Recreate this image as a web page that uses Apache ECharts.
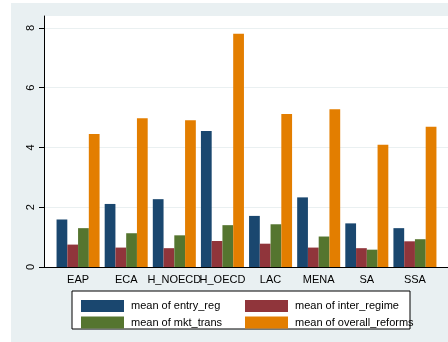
<!DOCTYPE html>
<html>
<head>
<meta charset="utf-8">
<script src="https://cdn.jsdelivr.net/npm/echarts@6/dist/echarts.min.js"></script>
<style>
  html, body { margin: 0; padding: 0; background: #ffffff; }
  #chart { width: 448px; height: 342px; }
</style>
</head>
<body>
<div id="chart"></div>
<script>
// Regions and the mean reform scores per region
const categories = ['EAP', 'ECA', 'H_NOECD', 'H_OECD', 'LAC', 'MENA', 'SA', 'SSA'];
const entryReg = [1.59, 2.11, 2.27, 4.55, 1.71, 2.33, 1.46, 1.30];
const interRegime = [0.75, 0.65, 0.63, 0.87, 0.78, 0.65, 0.63, 0.86];
const mktTrans = [1.30, 1.13, 1.06, 1.40, 1.43, 1.02, 0.58, 0.93];
const overallReforms = [4.45, 4.98, 4.91, 7.81, 5.12, 5.28, 4.09, 4.69];
const yTicks = [0, 2, 4, 6, 8];

const seriesNames = ['mean of entry_reg', 'mean of inter_regime', 'mean of mkt_trans', 'mean of overall_reforms'];
const seriesColors = ['#1a476f', '#90353b', '#55752f', '#e37e00'];
const seriesValues = [entryReg, interRegime, mktTrans, overallReforms];

const FONT = 'Liberation Sans, Arial, Helvetica, sans-serif';
const Y_MAX = 8.4;

const chart = echarts.init(document.getElementById('chart'), null, { renderer: 'canvas' });

chart.setOption({
  animation: false,
  backgroundColor: '#ffffff',
  textStyle: { fontFamily: FONT },
  graphic: [
    { type: 'rect', z: -5, silent: true,
      shape: { x: 11, y: 3, width: 437, height: 339 },
      style: { fill: '#e9f0f2' } },
    { type: 'rect', z: 3, silent: true,
      shape: { x: 72, y: 291, width: 338, height: 38 },
      style: { fill: '#ffffff', stroke: '#000000', lineWidth: 1 } }
  ],
  grid: [
    // plot region: white panel with the y axis and the baseline
    { left: 44, right: 0, top: 16, bottom: 75, show: true, backgroundColor: '#ffffff', borderWidth: 0 },
    // bar band region
    { left: 54, right: 9, top: 16, bottom: 75 }
  ],
  xAxis: [
    { gridIndex: 0, type: 'value', min: 0, max: 1,
      axisLine: { show: true, lineStyle: { color: '#000000', width: 1 } },
      axisTick: { show: false }, axisLabel: { show: false }, splitLine: { show: false } },
    { gridIndex: 1, type: 'category', data: categories,
      axisLine: { show: false }, axisTick: { show: false },
      axisLabel: { interval: 0, hideOverlap: false, margin: 7, color: '#000000',
        fontSize: 11, fontFamily: FONT } }
  ],
  yAxis: [
    { gridIndex: 0, type: 'value', min: 0, max: Y_MAX, interval: 2,
      axisLine: { show: true, lineStyle: { color: '#000000', width: 1 } },
      axisTick: { show: true, length: 5, customValues: yTicks, lineStyle: { color: '#000000' } },
      axisLabel: { rotate: 90, margin: 8, color: '#000000', fontSize: 11, fontFamily: FONT,
        customValues: yTicks },
      splitLine: { show: true, lineStyle: { color: '#eaf0f1', width: 1 } } },
    { gridIndex: 1, type: 'value', min: 0, max: Y_MAX, show: false,
      splitLine: { show: false } }
  ],
  legend: [
    { left: 76, top: 295, orient: 'vertical', itemWidth: 43, itemHeight: 12, itemGap: 4.5,
      icon: 'rect', data: [seriesNames[0], seriesNames[2]],
      textStyle: { fontSize: 11, color: '#000000', fontFamily: FONT, padding: [0, 0, 0, 2] } },
    { left: 240, top: 295, orient: 'vertical', itemWidth: 43, itemHeight: 12, itemGap: 4.5,
      icon: 'rect', data: [seriesNames[1], seriesNames[3]],
      textStyle: { fontSize: 11, color: '#000000', fontFamily: FONT, padding: [0, 0, 0, 2] } }
  ],
  series: seriesNames.map((name, i) => ({
    name: name,
    type: 'bar',
    xAxisIndex: 1,
    yAxisIndex: 1,
    data: seriesValues[i],
    barGap: '0%',
    barCategoryGap: '10.6%',
    itemStyle: { color: seriesColors[i] }
  }))
});
</script>
</body>
</html>
